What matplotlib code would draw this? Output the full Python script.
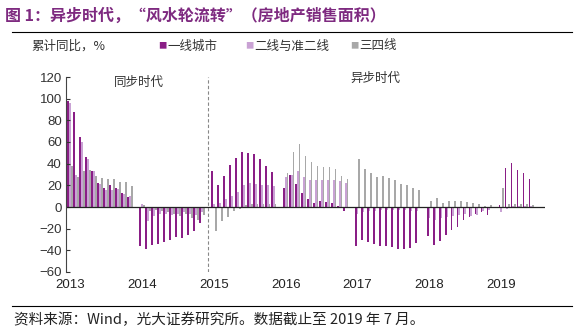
import numpy as np
import matplotlib
matplotlib.use("Agg")
import matplotlib.pyplot as plt
from matplotlib.lines import Line2D

plt.rcParams['font.family'] = ['Noto Sans CJK SC', 'DejaVu Sans']

# 每年 2-12 月（1-2 月合并公布），2019 年截至 7 月
periods = [(y, m) for y in range(2013, 2020) for m in range(2, 13) if (y, m) <= (2019, 7)]

# 累计同比，%
tier1 = [98, 88, 65, 46, 33, 22, 18, 20, 18, 13, 9,          # 2013
         -36, -39, -35, -34, -32, -30, -28, -29, -26, -22, -15,  # 2014
         33, 20, 29, 39, 45, 51, 50, 49, 44, 38, 32,          # 2015
         18, 30, 21, 13, 7, 4, 6, 5, 4, 1, -4,                # 2016
         -36, -30, -32, -34, -36, -36, -37, -39, -39, -38, -33,  # 2017
         -27, -35, -31, -26, -21, -18, -12, -9, -6, -5, -7,   # 2018
         2, 36, 41, 34, 31, 26]                               # 2019
tier2 = [96, 30, 60, 44, 33, 21, 16, 16, 17, 12, 10,
         3, -13, -8, -6, -6, -7, -6, -5, -6, -7, -5,
         3, 4, 7, 10, 14, 20, 22, 21, 20, 20, 19,
         28, 30, 33, 28, 25, 25, 25, 25, 25, 24, 22,
         -6, -5, -4, -4, -3, -3, -3, -3, -3, -4, -4,
         -10, -12, -10, -9, -8, -7, -6, -8, -7, -4, -3,
         -5, -2, 1, 1, 1, 1]
tier34 = [38, 28, 33, 34, 29, 27, 26, 26, 23, 23, 19,
          2, -4, -3, -4, -5, -6, -8, -6, -10, -12, -7,
          -22, -13, -9, -4, -2, 2, 3, 3, 3, 3, 3,
          31, 51, 58, 47, 42, 38, 37, 37, 35, 29, 26,
          44, 35, 31, 28, 29, 27, 25, 21, 20, 18, 16,
          6, 8, 4, 6, 6, 6, 5, 4, 3, 1, 2,
          18, 3, 3, 3, 3, 2]
years = [2013, 2014, 2015, 2016, 2017, 2018, 2019]

C1, C2, C3 = '#8A1E86', '#C9A2D4', '#A8A8A8'
PURPLE = '#7E2A80'
NUM = ['Liberation Sans', 'DejaVu Sans']

x = np.array([(y - 2013) * 12 + m - 1 for y, m in periods])

fig = plt.figure(figsize=(5.87, 3.33), dpi=100)
W, H = 587, 333
ax = fig.add_axes([66 / W, 1 - 272 / H, (545 - 66) / W, (272 - 77) / H])

bw = 0.3
ax.bar(x - 0.3, tier1, width=bw, color=C1, linewidth=0)
ax.bar(x, tier2, width=bw, color=C2, linewidth=0)
ax.bar(x + 0.3, tier34, width=bw, color=C3, linewidth=0)

ax.set_xlim(0.3, 80.3)
ax.set_ylim(-60, 120)
ax.set_yticks(range(-60, 121, 20))
ax.tick_params(axis='y', direction='in', length=3, labelsize=9.5, pad=3, colors='#333333')
ax.set_xticks([(y - 2013) * 12 + 1 for y in years])
ax.set_xticklabels([str(y) for y in years])
ax.tick_params(axis='x', length=0, labelsize=9.5, pad=5, colors='#222222')
for lab in ax.get_xticklabels() + ax.get_yticklabels():
    lab.set_family(NUM)
for s in ['top', 'right', 'bottom']:
    ax.spines[s].set_visible(False)
ax.spines['left'].set_color('#444444')
ax.spines['left'].set_linewidth(0.8)
ax.axhline(0, color='#222222', lw=0.9)
ax.axvline(24, color='#888888', ls=(0, (3, 2)), lw=0.8)

ax.text(12.4, 115, '同步时代', ha='center', va='center', fontsize=9, color='#333333')
ax.text(52, 119, '异步时代', ha='center', va='center', fontsize=9, color='#333333')

# 标题、图例、来源
fig.text(5 / W, 1 - 16 / H, '图 1：异步时代，“风水轮流转”（房地产销售面积）',
         fontsize=11.5, weight='bold', color=PURPLE, va='center')
fig.add_artist(Line2D([12 / W, 572 / W], [1 - 32 / H] * 2, color='black', lw=0.8))
fig.text(31 / W, 1 - 46 / H, '累计同比，%', fontsize=9, color='#333333', va='center')
for xp, c, lab in [(158, C1, '一线城市'), (245, C2, '二线与准二线'), (350, C3, '三四线')]:
    fig.text(xp / W, 1 - 46 / H, '■', fontsize=6, color=c, va='center')
    fig.text((xp + 9) / W, 1 - 46 / H, lab, fontsize=9, color='#333333', va='center')
fig.add_artist(Line2D([12 / W, 572 / W], [1 - 306 / H] * 2, color='black', lw=0.8))
fig.text(14 / W, 1 - 320 / H, '资料来源：Wind，光大证券研究所。数据截止至 2019 年 7 月。',
         fontsize=10.5, color='#222222', va='center')

fig.savefig('out.png', dpi=100)
